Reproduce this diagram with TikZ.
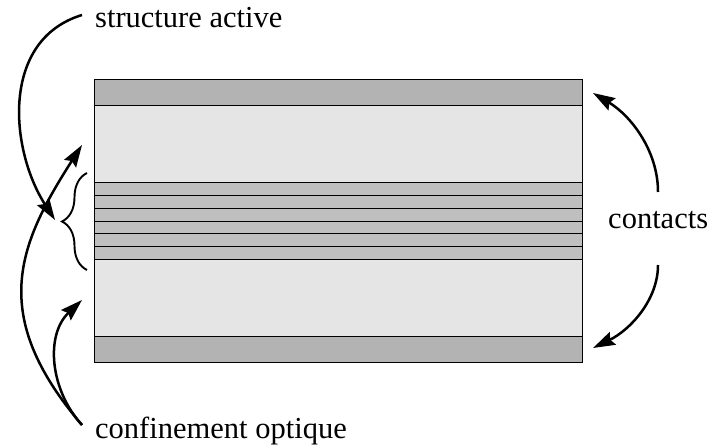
\documentclass[tikz,border=0pt]{standalone}
\usepackage{fontspec}
\setmainfont{Liberation Serif}
\usetikzlibrary{arrows.meta,decorations.pathreplacing}
\definecolor{darkband}{HTML}{B3B3B3}
\definecolor{stripe}{HTML}{BFBFBF}
\definecolor{lightband}{HTML}{E5E5E5}
\tikzset{
  layer/.style={draw=black,line width=1pt},
  pointer/.style={line width=2.5pt,-{Stealth[length=22pt,width=14pt,inset=3pt]}},
  label/.style={inner sep=0pt,anchor=base west,font=\fontsize{30.5}{36}\selectfont}
}
\begin{document}
\begin{tikzpicture}[x=1pt,y=-1pt]
\useasboundingbox (0,0) rectangle (708,446);
% layers
\fill[white] (0,0) rectangle (708,446);
\filldraw[layer,fill=darkband] (94,80) rectangle (582,106);
\filldraw[layer,fill=lightband] (94,106) rectangle (582,182.7);
\foreach \i in {0,...,5}{
  \filldraw[layer,fill=stripe] (94,{182.7+12.77*\i}) rectangle (582,{182.7+12.77*(\i+1)});
}
\filldraw[layer,fill=lightband] (94,259.3) rectangle (582,336.7);
\filldraw[layer,fill=darkband] (94,336.7) rectangle (582,362);
% brace
\draw[line width=1.9pt,decorate,decoration={brace,amplitude=25pt}] (87,270) -- (87,173);
% labels
\node[label] (sa) at (95,28) {structure active};
\node[label] (co) at (608,228) {contacts};
\node[label] (cf) at (95,438) {confinement optique};
% connector end points
\coordinate (saS) at (82,15);
\coordinate (saE) at (55,220);
\coordinate (cfS) at (82,425);
\coordinate (cfE1) at (82,145);
\coordinate (cfE2) at (82,300);
\coordinate (coS1) at (658,192);
\coordinate (coE1) at (593,93);
\coordinate (coS2) at (658,265);
\coordinate (coE2) at (593,348);
% connectors
\draw[pointer] (saS) .. controls (0,40) and (10,150) .. (saE);
\draw[pointer] (cfS) .. controls (-12,315) and (18,245) .. (cfE1);
\draw[pointer] (cfS) .. controls (50,390) and (45,335) .. (cfE2);
\draw[pointer] (coS1) .. controls (658,150) and (630,115) .. (coE1);
\draw[pointer] (coS2) .. controls (658,300) and (630,330) .. (coE2);
\end{tikzpicture}
\end{document}
